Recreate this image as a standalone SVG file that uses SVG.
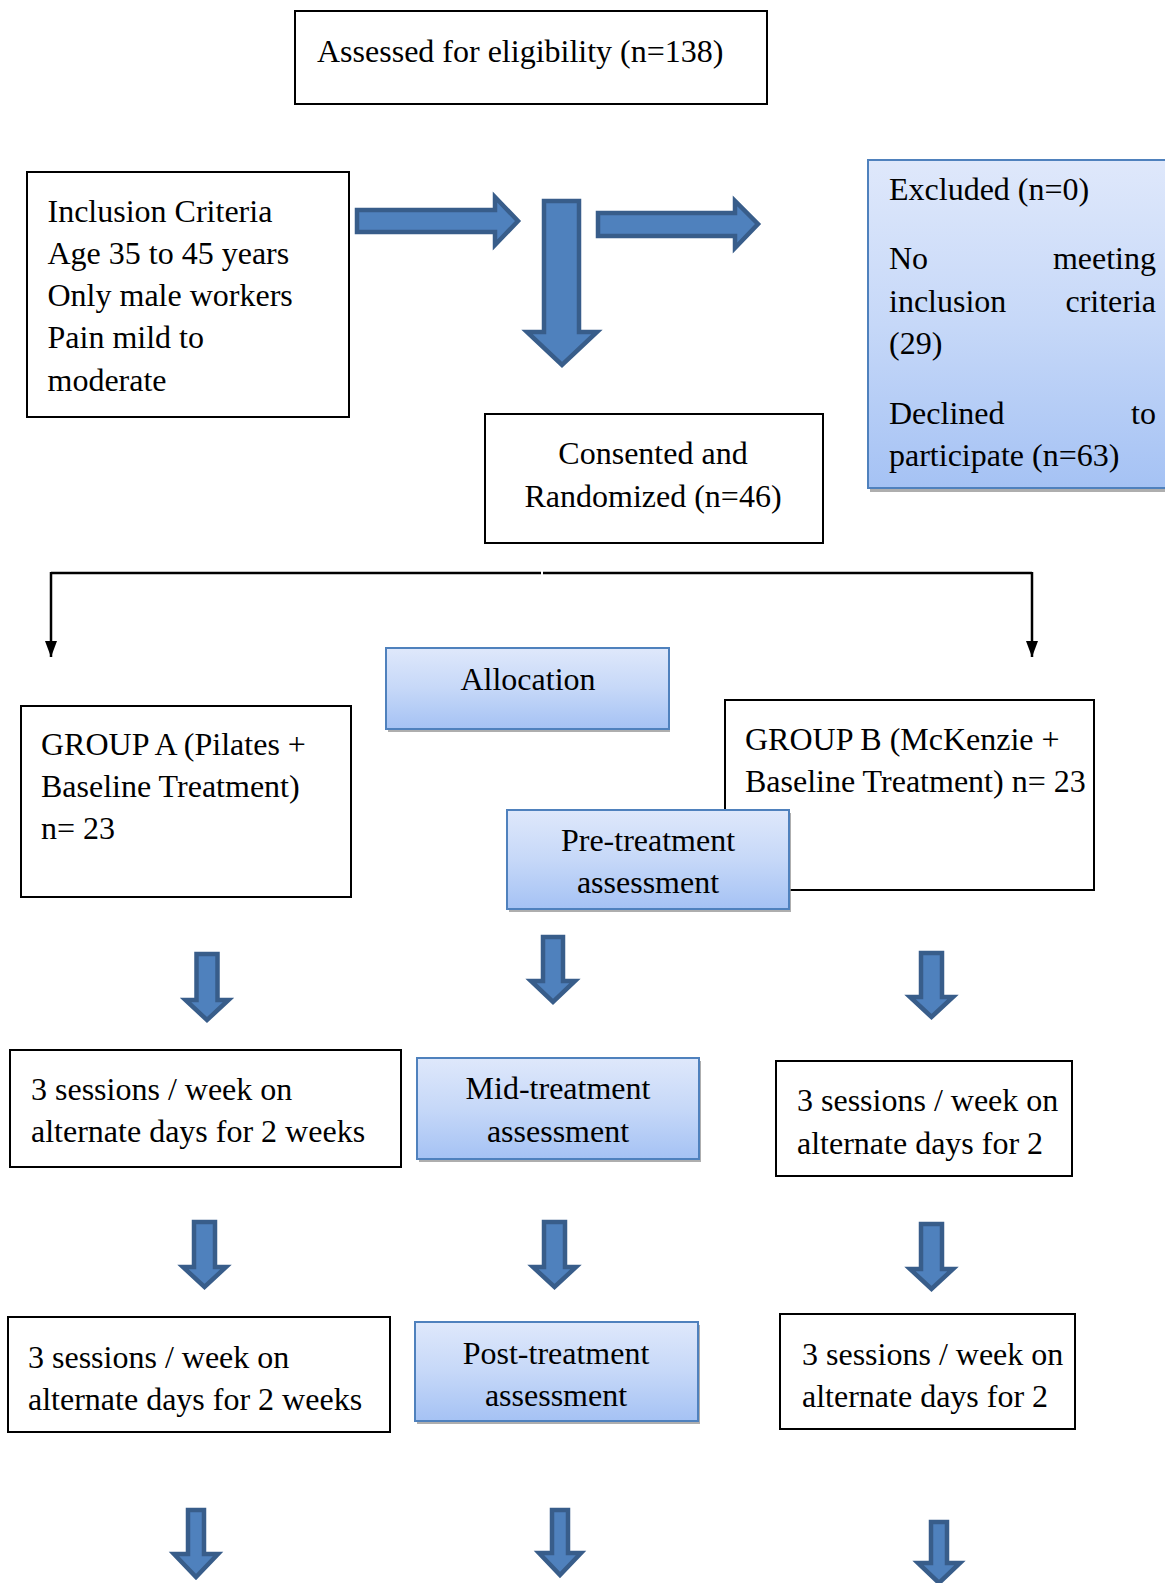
<svg xmlns="http://www.w3.org/2000/svg" width="1165" height="1583" viewBox="0 0 1165 1583">
<defs>
<linearGradient id="blueGrad" x1="0" y1="0" x2="0" y2="1">
<stop offset="0" stop-color="#DFE8FB"/>
<stop offset="0.5" stop-color="#C6D8F8"/>
<stop offset="1" stop-color="#A5C2F4"/>
</linearGradient>
<marker id="arr" viewBox="0 0 16 12" refX="16" refY="6" markerWidth="16" markerHeight="12" markerUnits="userSpaceOnUse" orient="auto">
<path d="M0,0 L16,6 L0,12 Z" fill="#000"/>
</marker>
</defs>
<style>
text{font-family:"Liberation Serif","Times New Roman",serif;font-size:32px;fill:#000}
.box{fill:#fff;stroke:#000;stroke-width:2}
.gbox{fill:url(#blueGrad);stroke:#4F81BD;stroke-width:2}
.shadow{fill:#9a9a9a;opacity:0.8}
.barrow{fill:#4F81BD;stroke:#385D8A;stroke-width:4.5;stroke-linejoin:miter}
.mid{text-anchor:middle}
.end{text-anchor:end}
.conn{fill:none;stroke:#000;stroke-width:2.5}
</style>
<rect width="1165" height="1583" fill="#fff"/>

<g id="connectors">
<path class="barrow" d="M357,210 L495,210 L495,197 L518,221 L495,245 L495,232 L357,232 Z"/>
<path class="barrow" d="M544,201 L579,201 L579,332 L597,332 L562,365 L527,332 L544,332 Z"/>
<path class="barrow" d="M598,213 L735,213 L735,201 L758,224 L735,248 L735,236 L598,236 Z"/>
<line class="conn" x1="51" y1="573" x2="541" y2="573"/>
<line class="conn" x1="543" y1="573" x2="1032" y2="573"/>
<line class="conn" x1="51" y1="572" x2="51" y2="657" marker-end="url(#arr)"/>
<line class="conn" x1="1032" y1="572" x2="1032" y2="657" marker-end="url(#arr)"/>
<path class="barrow" d="M196.5,954 L217.5,954 L217.5,1000 L228.5,1000 L207,1020 L185.5,1000 L196.5,1000 Z"/>
<path class="barrow" d="M543,937 L563,937 L563,981 L575,981 L553,1002 L531,981 L543,981 Z"/>
<path class="barrow" d="M921,953 L942,953 L942,997 L953,997 L931.5,1017 L910,997 L921,997 Z"/>
<path class="barrow" d="M194,1222 L215,1222 L215,1267 L226,1267 L204.5,1287 L183,1267 L194,1267 Z"/>
<path class="barrow" d="M544,1222 L565,1222 L565,1267 L576,1267 L554.5,1287 L533,1267 L544,1267 Z"/>
<path class="barrow" d="M921,1224 L942,1224 L942,1269 L953,1269 L931.5,1289 L910,1269 L921,1269 Z"/>
<path class="barrow" d="M188,1510 L204,1510 L204,1554 L218,1554 L196,1577 L174,1554 L188,1554 Z"/>
<path class="barrow" d="M552,1510 L568,1510 L568,1553 L581,1553 L560,1575 L539,1553 L552,1553 Z"/>
<path class="barrow" d="M931,1522 L947,1522 L947,1563 L960,1563 L939,1583 L918,1563 L931,1563 Z"/>
</g>

<g id="assessed">
<rect class="box" x="295" y="11" width="472" height="93"/>
<text x="317" y="62">Assessed for eligibility (n=138)</text>
</g>

<g id="inclusion">
<rect class="box" x="27" y="172" width="322" height="245"/>
<text x="47.5" y="222">Inclusion Criteria</text>
<text x="47.5" y="264">Age 35 to 45 years</text>
<text x="47.5" y="306">Only male workers</text>
<text x="47.5" y="348">Pain mild to</text>
<text x="47.5" y="391">moderate</text>
</g>

<g id="excluded">
<rect class="shadow" x="870" y="163" width="300" height="329"/>
<rect class="gbox" x="868" y="160" width="300" height="328"/>
<text x="889" y="200">Excluded (n=0)</text>
<text x="889" y="269">No</text>
<text class="end" x="1156" y="269">meeting</text>
<text x="889" y="312">inclusion</text>
<text class="end" x="1156" y="312">criteria</text>
<text x="889" y="354">(29)</text>
<text x="889" y="424">Declined</text>
<text class="end" x="1156" y="424">to</text>
<text x="889" y="466">participate (n=63)</text>
</g>

<g id="consented">
<rect class="box" x="485" y="414" width="338" height="129"/>
<text class="mid" x="653" y="464">Consented and</text>
<text class="mid" x="653" y="507">Randomized (n=46)</text>
</g>

<g id="allocation">
<rect class="shadow" x="388" y="651" width="282" height="81"/>
<rect class="gbox" x="386" y="648" width="283" height="81"/>
<text class="mid" x="528" y="690">Allocation</text>
</g>

<g id="groupA">
<rect class="box" x="21" y="706" width="330" height="191"/>
<text x="41" y="755">GROUP A (Pilates +</text>
<text x="41" y="797">Baseline Treatment)</text>
<text x="41" y="839">n= 23</text>
</g>

<g id="groupB">
<rect class="box" x="725" y="700" width="369" height="190"/>
<text x="745" y="750">GROUP B (McKenzie +</text>
<text x="745" y="792">Baseline Treatment) n= 23</text>
</g>

<g id="pretreatment">
<rect class="shadow" x="509" y="813" width="282" height="99"/>
<rect class="gbox" x="507" y="810" width="282" height="99"/>
<text class="mid" x="648" y="851">Pre-treatment</text>
<text class="mid" x="648" y="893">assessment</text>
</g>

<g id="sessionsA1">
<rect class="box" x="10" y="1050" width="391" height="117"/>
<text x="31" y="1100">3 sessions / week on</text>
<text x="31" y="1142">alternate days for 2 weeks</text>
</g>

<g id="midtreatment">
<rect class="shadow" x="419" y="1061" width="282" height="101"/>
<rect class="gbox" x="417" y="1058" width="282" height="101"/>
<text class="mid" x="558" y="1099">Mid-treatment</text>
<text class="mid" x="558" y="1142">assessment</text>
</g>

<g id="sessionsB1">
<rect class="box" x="776" y="1061" width="296" height="115"/>
<text x="797" y="1111">3 sessions / week on</text>
<text x="797" y="1154">alternate days for 2</text>
</g>

<g id="sessionsA2">
<rect class="box" x="8" y="1317" width="382" height="115"/>
<text x="28" y="1368">3 sessions / week on</text>
<text x="28" y="1410">alternate days for 2 weeks</text>
</g>

<g id="posttreatment">
<rect class="shadow" x="417" y="1325" width="283" height="99"/>
<rect class="gbox" x="415" y="1322" width="283" height="99"/>
<text class="mid" x="556" y="1364">Post-treatment</text>
<text class="mid" x="556" y="1406">assessment</text>
</g>

<g id="sessionsB2">
<rect class="box" x="780" y="1314" width="295" height="115"/>
<text x="802" y="1365">3 sessions / week on</text>
<text x="802" y="1407">alternate days for 2</text>
</g>
</svg>
